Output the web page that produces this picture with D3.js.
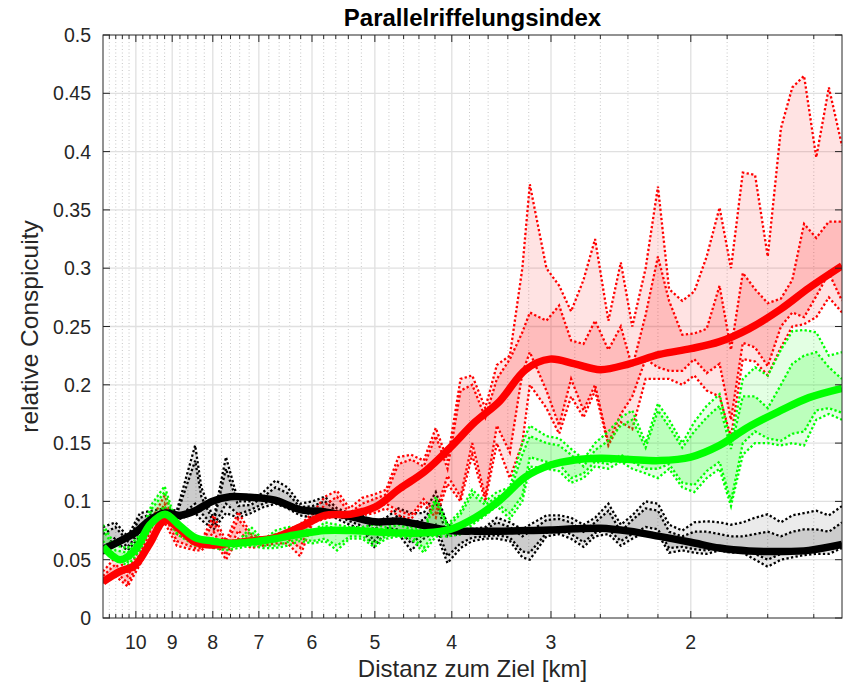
<!DOCTYPE html>
<html><head><meta charset="utf-8">
<script src="https://cdn.jsdelivr.net/npm/d3@7"></script>
<style>body{margin:0;background:#fff;} svg{font-family:"Liberation Sans",Arial,Helvetica,sans-serif;}</style>
</head><body><svg id="c" width="849" height="688"></svg>
<script>
// ---------------- data ----------------
const xTicks = [10, 9, 8, 7, 6, 5, 4, 3, 2];
const xTickLabels = ["10", "9", "8", "7", "6", "5", "4", "3", "2"];
const yTicks = [0, 0.05, 0.1, 0.15, 0.2, 0.25, 0.3, 0.35, 0.4, 0.45, 0.5];
const yTickLabels = ["0", "0.05", "0.1", "0.15", "0.2", "0.25", "0.3", "0.35", "0.4", "0.45", "0.5"];
const xDomain = [11, 1.29];

// band sample distances (km)
const distGrid = [11.0,10.61,10.24,9.88,9.54,9.20,8.88,8.42,8.27,7.98,7.70,7.43,7.16,6.91,6.67,6.44,6.21,5.99,5.78,5.58,5.38,5.19,5.01,4.84,4.67,4.50,4.34,4.19,4.05,3.90,3.77,3.63,3.51,3.38,3.26,3.19,3.04,2.93,2.83,2.73,2.64,2.54,2.45,2.37,2.28,2.20,2.13,2.05,1.98,1.91,1.84,1.78,1.72,1.66,1.60,1.54,1.49,1.44,1.39,1.34,1.29];

const redOuterUpper = [0.040,0.052,0.040,0.060,0.085,0.105,0.075,0.066,0.066,0.088,0.066,0.091,0.072,0.068,0.070,0.076,0.080,
  0.090,0.104,0.109,0.094,0.103,0.106,0.110,0.138,0.140,0.135,0.163,0.135,0.205,0.208,0.180,0.217,
  0.225,0.300,0.372,0.300,0.285,0.263,0.290,0.325,0.255,0.305,0.250,0.300,0.370,0.282,
  0.272,0.280,0.310,0.352,0.300,0.382,0.380,0.310,0.420,0.455,0.465,0.395,0.455,0.405];
const redInnerUpper = [0.036,0.046,0.036,0.055,0.078,0.098,0.072,0.064,0.064,0.082,0.062,0.085,0.070,0.067,0.069,0.074,0.076,
  0.086,0.097,0.104,0.090,0.098,0.102,0.106,0.132,0.136,0.130,0.156,0.128,0.195,0.200,0.172,0.205,
  0.222,0.245,0.262,0.255,0.268,0.238,0.235,0.255,0.230,0.250,0.215,0.260,0.310,0.272,
  0.243,0.244,0.248,0.285,0.230,0.296,0.282,0.270,0.274,0.290,0.338,0.326,0.340,0.340];
const redInnerLower = [0.032,0.040,0.030,0.050,0.072,0.088,0.066,0.060,0.060,0.074,0.054,0.075,0.064,0.064,0.066,0.068,0.060,
  0.084,0.088,0.092,0.088,0.090,0.094,0.098,0.092,0.088,0.102,0.090,0.122,0.104,0.150,0.104,0.165,
  0.142,0.210,0.228,0.195,0.165,0.205,0.178,0.200,0.150,0.175,0.190,0.222,0.215,0.212,
  0.212,0.222,0.210,0.218,0.170,0.236,0.232,0.216,0.250,0.262,0.258,0.276,0.296,0.272];
const redOuterLower = [0.030,0.036,0.027,0.046,0.066,0.082,0.062,0.058,0.058,0.068,0.050,0.068,0.060,0.062,0.064,0.064,0.053,
  0.082,0.085,0.088,0.086,0.088,0.090,0.094,0.088,0.085,0.098,0.086,0.115,0.100,0.140,0.100,0.150,
  0.120,0.150,0.200,0.180,0.158,0.190,0.172,0.195,0.148,0.168,0.162,0.205,0.205,0.205,
  0.200,0.208,0.195,0.190,0.155,0.222,0.220,0.208,0.232,0.250,0.252,0.258,0.275,0.262];

const greenOuterUpper = [0.080,0.062,0.060,0.072,0.098,0.113,0.080,0.070,0.068,0.068,0.066,0.066,0.078,0.067,0.075,0.078,0.078,
  0.074,0.082,0.080,0.078,0.078,0.080,0.078,0.082,0.078,0.076,0.104,0.080,0.092,0.110,0.100,0.108,
  0.112,0.150,0.165,0.156,0.154,0.145,0.136,0.150,0.160,0.172,0.178,0.150,0.184,0.170,
  0.150,0.168,0.182,0.192,0.150,0.205,0.215,0.208,0.230,0.246,0.247,0.245,0.225,0.228];
const greenInnerUpper = [0.076,0.058,0.056,0.068,0.094,0.108,0.078,0.068,0.066,0.066,0.064,0.064,0.074,0.065,0.072,0.075,0.075,
  0.072,0.079,0.077,0.076,0.076,0.077,0.076,0.080,0.076,0.074,0.100,0.078,0.089,0.106,0.097,0.104,
  0.108,0.140,0.156,0.150,0.148,0.140,0.130,0.144,0.152,0.165,0.170,0.146,0.178,0.164,
  0.146,0.160,0.172,0.182,0.145,0.190,0.190,0.180,0.200,0.218,0.225,0.228,0.215,0.205];
const greenInnerLower = [0.066,0.053,0.048,0.062,0.084,0.096,0.074,0.064,0.063,0.062,0.060,0.062,0.064,0.062,0.062,0.065,0.068,
  0.066,0.068,0.062,0.070,0.070,0.064,0.070,0.072,0.070,0.060,0.074,0.072,0.076,0.086,0.090,0.098,
  0.090,0.105,0.138,0.134,0.132,0.120,0.124,0.134,0.132,0.140,0.134,0.128,0.128,0.132,
  0.116,0.114,0.126,0.134,0.100,0.150,0.160,0.154,0.152,0.158,0.160,0.178,0.180,0.176];
const greenOuterLower = [0.062,0.050,0.045,0.058,0.080,0.090,0.072,0.062,0.062,0.060,0.058,0.060,0.062,0.060,0.060,0.062,0.066,
  0.064,0.066,0.058,0.068,0.068,0.061,0.068,0.070,0.068,0.056,0.070,0.070,0.072,0.080,0.088,0.096,
  0.085,0.100,0.130,0.128,0.126,0.116,0.120,0.130,0.128,0.134,0.128,0.124,0.120,0.128,
  0.112,0.108,0.120,0.128,0.096,0.140,0.150,0.150,0.148,0.150,0.148,0.170,0.175,0.170];

const blackOuterUpper = [0.078,0.082,0.070,0.090,0.092,0.094,0.092,0.148,0.112,0.085,0.138,0.100,0.100,0.108,0.118,0.112,0.098,
  0.100,0.104,0.094,0.090,0.088,0.082,0.086,0.094,0.090,0.090,0.108,0.080,0.076,0.076,0.078,0.086,
  0.082,0.076,0.080,0.088,0.088,0.086,0.080,0.086,0.098,0.080,0.088,0.100,0.098,0.080,
  0.075,0.082,0.083,0.082,0.080,0.082,0.086,0.089,0.082,0.088,0.090,0.092,0.088,0.096];
const blackInnerUpper = [0.072,0.078,0.066,0.086,0.089,0.091,0.089,0.135,0.104,0.082,0.128,0.096,0.097,0.104,0.112,0.107,0.095,
  0.096,0.100,0.091,0.087,0.085,0.076,0.082,0.088,0.082,0.084,0.100,0.070,0.072,0.074,0.076,0.082,
  0.078,0.070,0.074,0.084,0.085,0.082,0.074,0.082,0.092,0.074,0.084,0.094,0.092,0.074,
  0.070,0.074,0.074,0.072,0.070,0.070,0.072,0.074,0.070,0.074,0.076,0.076,0.074,0.082];
const blackInnerLower = [0.060,0.069,0.061,0.074,0.083,0.088,0.086,0.098,0.090,0.079,0.098,0.089,0.093,0.098,0.102,0.098,0.091,
  0.089,0.093,0.088,0.083,0.079,0.066,0.077,0.076,0.064,0.072,0.080,0.053,0.064,0.069,0.070,0.071,
  0.069,0.057,0.056,0.073,0.075,0.072,0.065,0.073,0.076,0.066,0.072,0.078,0.076,0.060,
  0.061,0.059,0.058,0.061,0.059,0.059,0.055,0.050,0.055,0.057,0.058,0.059,0.059,0.064];
const blackOuterLower = [0.055,0.065,0.058,0.070,0.080,0.086,0.084,0.090,0.084,0.076,0.090,0.086,0.090,0.095,0.098,0.094,0.088,
  0.086,0.090,0.085,0.080,0.076,0.061,0.074,0.072,0.058,0.068,0.074,0.047,0.060,0.066,0.068,0.068,
  0.066,0.052,0.050,0.070,0.072,0.068,0.061,0.070,0.072,0.062,0.068,0.074,0.072,0.056,
  0.058,0.056,0.055,0.058,0.056,0.056,0.050,0.044,0.050,0.052,0.054,0.055,0.055,0.060];

// smoothed curves
const smoothDist = [11.0,10.47,10.03,9.60,9.19,8.80,8.42,8.02,7.61,7.18,6.68,6.21,5.78,5.37,5.00,4.65,4.32,4.02,3.74,3.48,3.23,3.01,2.80,2.60,2.39,2.19,2.00,1.84,1.69,1.54,1.42,1.29];
const blackMean = [0.059,0.066,0.073,0.084,0.090,0.088,0.092,0.100,0.104,0.1035,0.101,0.093,0.091,0.087,0.0825,0.083,0.079,0.075,0.0745,0.0745,0.075,0.0755,0.0765,0.077,0.0745,0.070,0.065,0.060,0.0575,0.057,0.058,0.063];
const redMean = [0.031,0.040,0.045,0.064,0.084,0.076,0.065,0.0625,0.064,0.066,0.069,0.078,0.088,0.089,0.095,0.111,0.126,0.146,0.168,0.186,0.213,0.222,0.218,0.213,0.218,0.226,0.231,0.237,0.248,0.265,0.283,0.302];
const greenMean = [0.061,0.050,0.058,0.080,0.089,0.079,0.069,0.066,0.064,0.065,0.068,0.072,0.075,0.075,0.074,0.073,0.073,0.076,0.086,0.101,0.121,0.131,0.1355,0.137,0.136,0.135,0.138,0.148,0.164,0.178,0.189,0.197];

// ---------------- chart ----------------
const X0 = 103, X1 = 842, Y0 = 618, Y1 = 35;
const axisColor = "#262626";
const svg = d3.select("#c");
const x = d3.scaleLog().domain(xDomain).range([X0, X1]);
const y = d3.scaleLinear().domain([0, 0.5]).range([Y0, Y1]);

const xMinor = [];
for (let k = 1; k <= 10; k++) for (let f = 0.2; f < 0.99; f += 0.2) {
  const v = +(k + f).toFixed(1);
  if (v < xDomain[0] && v > xDomain[1] && !xTicks.includes(v)) xMinor.push(v);
}

svg.append("defs").append("clipPath").attr("id", "plot")
  .append("rect").attr("x", X0).attr("y", Y1).attr("width", X1 - X0).attr("height", Y0 - Y1);

// grid
const grid = svg.append("g");
grid.append("g").selectAll("line").data(xMinor).join("line")
  .attr("x1", d => x(d)).attr("x2", d => x(d)).attr("y1", Y1).attr("y2", Y0)
  .attr("stroke", "#c6c6c6").attr("stroke-width", 1).attr("stroke-dasharray", "1,2.5");
grid.append("g").selectAll("line").data(xTicks).join("line")
  .attr("x1", d => x(d)).attr("x2", d => x(d)).attr("y1", Y1).attr("y2", Y0)
  .attr("stroke", "#e0e0e0").attr("stroke-width", 1.3);
grid.append("g").selectAll("line").data(yTicks.slice(1, -1)).join("line")
  .attr("x1", X0).attr("x2", X1).attr("y1", d => y(d)).attr("y2", d => y(d))
  .attr("stroke", "#e0e0e0").attr("stroke-width", 1.3);

const series = [
  {rgb: "0,0,0", stroke: "#000000", lightA: 0.08, darkA: 0.13,
   U: blackOuterUpper, u: blackInnerUpper, l: blackInnerLower, L: blackOuterLower, mean: blackMean},
  {rgb: "255,0,0", stroke: "#ff0000", lightA: 0.11, darkA: 0.17,
   U: redOuterUpper, u: redInnerUpper, l: redInnerLower, L: redOuterLower, mean: redMean},
  {rgb: "0,255,0", stroke: "#00ff00", lightA: 0.11, darkA: 0.17,
   U: greenOuterUpper, u: greenInnerUpper, l: greenInnerLower, L: greenOuterLower, mean: greenMean}
];

const plot = svg.append("g").attr("clip-path", "url(#plot)");
const idx = d3.range(distGrid.length);

series.forEach(s => {
  const g = plot.append("g");
  const areaOuter = d3.area().x(i => x(distGrid[i])).y0(i => y(s.L[i])).y1(i => y(s.U[i]));
  const areaInner = d3.area().x(i => x(distGrid[i])).y0(i => y(s.l[i])).y1(i => y(s.u[i]));
  g.append("path").attr("d", areaOuter(idx)).attr("fill", `rgba(${s.rgb},${s.lightA})`);
  g.append("path").attr("d", areaInner(idx)).attr("fill", `rgba(${s.rgb},${s.darkA})`);
  [s.U, s.u, s.l, s.L].forEach(arr => {
    const ln = d3.line().x(i => x(distGrid[i])).y(i => y(arr[i]));
    g.append("path").attr("d", ln(idx)).attr("fill", "none")
      .attr("stroke", s.stroke).attr("stroke-width", 2.3)
      .attr("stroke-dasharray", "2.3,2.3");
  });
});

const sIdx = d3.range(smoothDist.length);
series.forEach(s => {
  const ln = d3.line().curve(d3.curveCatmullRom.alpha(0.5))
    .x(i => x(smoothDist[i])).y(i => y(s.mean[i]));
  plot.append("path").attr("d", ln(sIdx)).attr("fill", "none")
    .attr("stroke", s.stroke).attr("stroke-width", 7.5)
    .attr("stroke-linejoin", "round").attr("stroke-linecap", "butt");
});

// axes box & ticks
const ax = svg.append("g").attr("stroke", axisColor).attr("stroke-width", 1);
ax.append("rect").attr("x", X0).attr("y", Y1).attr("width", X1 - X0).attr("height", Y0 - Y1)
  .attr("fill", "none");
xTicks.forEach(t => {
  ax.append("line").attr("x1", x(t)).attr("x2", x(t)).attr("y1", Y0).attr("y2", Y0 - 7);
  ax.append("line").attr("x1", x(t)).attr("x2", x(t)).attr("y1", Y1).attr("y2", Y1 + 7);
});
xMinor.forEach(t => {
  ax.append("line").attr("x1", x(t)).attr("x2", x(t)).attr("y1", Y0).attr("y2", Y0 - 4);
  ax.append("line").attr("x1", x(t)).attr("x2", x(t)).attr("y1", Y1).attr("y2", Y1 + 4);
});
yTicks.forEach(t => {
  ax.append("line").attr("x1", X0).attr("x2", X0 + 7).attr("y1", y(t)).attr("y2", y(t));
  ax.append("line").attr("x1", X1).attr("x2", X1 - 7).attr("y1", y(t)).attr("y2", y(t));
});

// labels
const txt = svg.append("g").attr("fill", axisColor);
txt.selectAll(".yl").data(yTicks).join("text")
  .attr("x", X0 - 12).attr("y", d => y(d)).attr("dy", "0.36em")
  .attr("text-anchor", "end").attr("font-size", 19.5).text((d, i) => yTickLabels[i]);
txt.selectAll(".xl").data(xTicks).join("text")
  .attr("x", d => x(d)).attr("y", Y0 + 31)
  .attr("text-anchor", "middle").attr("font-size", 19.5).text((d, i) => xTickLabels[i]);
txt.append("text").attr("x", (X0 + X1) / 2).attr("y", 677)
  .attr("text-anchor", "middle").attr("font-size", 24).text("Distanz zum Ziel [km]");
txt.append("text").attr("transform", `translate(38,${(Y0 + Y1) / 2}) rotate(-90)`)
  .attr("text-anchor", "middle").attr("font-size", 24.5).text("relative Conspicuity");
svg.append("text").attr("x", (X0 + X1) / 2).attr("y", 26)
  .attr("text-anchor", "middle").attr("font-size", 24).attr("font-weight", "bold")
  .attr("fill", "#000").text("Parallelriffelungsindex");
</script></body></html>
